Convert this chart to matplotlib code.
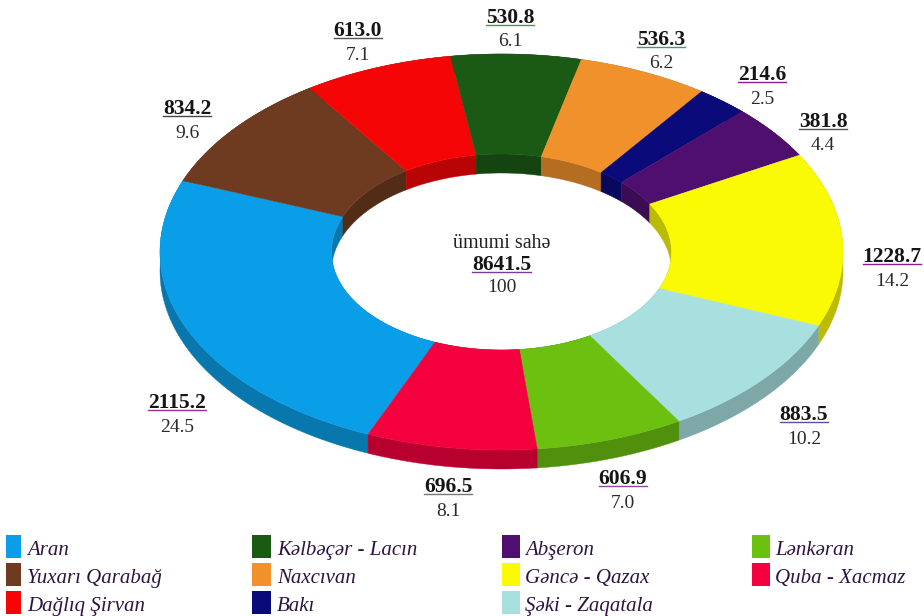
import numpy as np
import matplotlib
matplotlib.use('Agg')
import matplotlib.pyplot as plt
from matplotlib.colors import to_rgb
from matplotlib.patches import Rectangle

# values, clockwise from the Aran slice
regions = ['Aran', 'Yuxarı Qarabağ', 'Dağlıq Şirvan', 'Kəlbəçər - Lacın', 'Naxcıvan', 'Bakı',
           'Abşeron', 'Gəncə - Qazax', 'Şəki - Zaqatala', 'Lənkəran', 'Quba - Xacmaz']
areas = [2115.2, 834.2, 613.0, 530.8, 536.3, 214.6, 381.8, 1228.7, 883.5, 606.9, 696.5]
percents = ['24.5', '9.6', '7.1', '6.1', '6.2', '2.5', '4.4', '14.2', '10.2', '7.0', '8.1']
colors = ['#0a9ee8', '#6e3a20', '#f50505', '#1a5a14', '#f0912c', '#0a0a7a',
          '#4f0f6e', '#fafa05', '#a8e0e0', '#6cc010', '#f5003f']
total_label = '8641.5'

# label centres in pixels (number line)
label_x = [177, 187, 358, 510, 661, 762, 823, 892, 804, 623, 448]
label_y = [401, 107, 29, 16, 38, 73, 120, 255, 413, 477, 485]
underline_colors = ['#a03090', '#444444', '#555555', '#3a9a5a', '#3a9a7a', '#8a2090',
                    '#555555', '#902090', '#6a4a9a', '#8a4aa0', '#777777']

# legend layout, filled column by column
legend_x = [6, 252, 502, 752]
legend_text_x = [27, 277, 525, 775]
legend_top = [535, 563, 591]
legend_base = [555, 583, 611]
legend_box_w = [15, 19, 18, 18]

serif = 'Liberation Serif'

fig = plt.figure(figsize=(9.24, 6.16), dpi=100)
ax = fig.add_axes([0, 0, 1, 1])
ax.set_xlim(0, 924)
ax.set_ylim(616, 0)
ax.axis('off')

# ring geometry (top face) in pixels
cx, cy = 501.5, 252
rx_out, ry_out = 341.5, 198
rx_in, ry_in = 170, 98
depth = 19
start = 247


def arc(rx, ry, a1, a2, dy=0):
    t = np.radians(np.linspace(a1, a2, 80))
    return cx + rx * np.cos(t), cy - ry * np.sin(t) + dy


def darker(c, f=0.75):
    return tuple(v * f for v in to_rgb(c))


fracs = np.array(areas) / sum(areas)
edges = start - np.concatenate([[0], np.cumsum(fracs)]) * 360

# side walls first, top faces cover what should be hidden
for i, c in enumerate(colors):
    a1, a2 = edges[i], edges[i + 1]
    for rx, ry in [(rx_out, ry_out), (rx_in, ry_in)]:
        x1, y1 = arc(rx, ry, a1, a2)
        x2, y2 = arc(rx, ry, a1, a2, depth)
        ax.fill(np.r_[x1, x2[::-1]], np.r_[y1, y2[::-1]], color=darker(c), lw=0.3, zorder=1)

for i, c in enumerate(colors):
    a1, a2 = edges[i], edges[i + 1]
    x1, y1 = arc(rx_out, ry_out, a1, a2)
    x2, y2 = arc(rx_in, ry_in, a2, a1)
    ax.fill(np.r_[x1, x2], np.r_[y1, y2], color=c, lw=0.3, zorder=2)

# value labels
for i in range(len(areas)):
    x, y = label_x[i], label_y[i]
    s = f'{areas[i]:.1f}'
    ax.text(x, y + 2, s, family=serif, weight='bold', fontsize=15.5, color='#151515',
            ha='center', va='center', zorder=5)
    half = 4.85 * len(s)
    ax.plot([x - half, x + half], [y + 8.5, y + 8.5], color=underline_colors[i], lw=1, zorder=5)
    ax.text(x, y + 26, percents[i], family=serif, fontsize=14, color='#2a2a2a',
            ha='center', va='center', zorder=5)

# centre text
ax.text(502, 244, 'ümumi sahə', family=serif, fontsize=14.4, color='#222222', ha='center', va='center', zorder=5)
ax.text(502, 265, total_label, family=serif, weight='bold', fontsize=15.5, color='#151515', ha='center', va='center', zorder=5)
ax.plot([472, 531], [271.5, 271.5], color='#7a3a9a', lw=1, zorder=5)
ax.text(502, 287, '100', family=serif, fontsize=14, color='#2a2a2a', ha='center', va='center', zorder=5)

# legend
for i, name in enumerate(regions):
    col, row = (i // 3, i % 3)
    ax.add_patch(Rectangle((legend_x[col], legend_top[row]), legend_box_w[col], 23, color=colors[i], lw=0, zorder=5))
    ax.text(legend_text_x[col], legend_base[row], name, family=serif, style='italic', fontsize=15,
            color='#2e1440', ha='left', va='baseline', zorder=5)

fig.savefig('out.png', dpi=100)
